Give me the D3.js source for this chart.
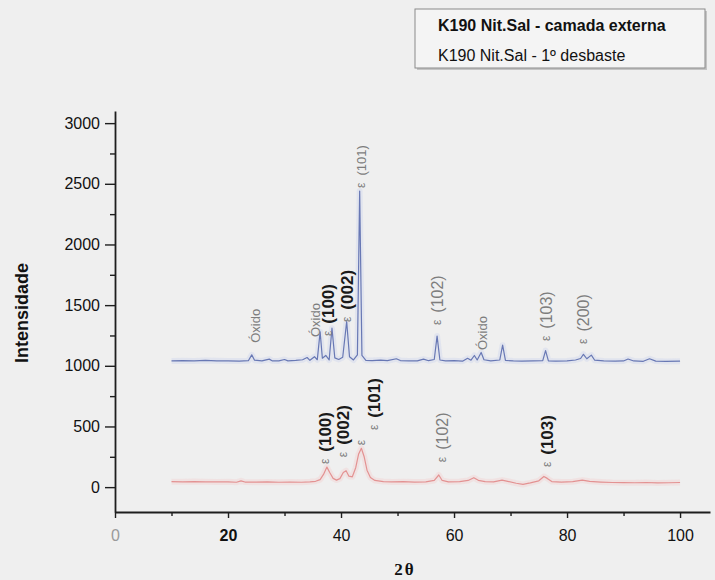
<!DOCTYPE html>
<html>
<head>
<meta charset="utf-8">
<script src="https://cdn.jsdelivr.net/npm/d3@7"></script>
<style>
  html, body { margin: 0; padding: 0; background: #efefef; }
  svg { display: block; font-family: "Liberation Sans", Arial, sans-serif; }
</style>
</head>
<body>
<svg id="chart" width="715" height="580"></svg>
<script>
// Series names shown in the legend box
const legendLabels = ["K190 Nit.Sal - camada externa", "K190 Nit.Sal - 1º desbaste"];

// Axis tick values
const xTickValues = [0, 20, 40, 60, 80, 100];
const xMinorTicks = [10, 30, 50, 70, 90];
const yTickValues = [0, 500, 1000, 1500, 2000, 2500, 3000];
const yMinorTicks = [250, 750, 1250, 1750, 2250, 2750];

// Diffractogram of the outer layer: [2θ, intensity]
const externa = [
  [10, 1040], [12, 1042], [14, 1040], [16, 1044], [18, 1041], [20, 1040], [22, 1039],
  [23.6, 1042], [24.2, 1090], [24.7, 1046], [26, 1040], [27.3, 1055], [27.8, 1041],
  [29, 1040], [30, 1052], [30.6, 1041], [32, 1044], [33.2, 1050], [34, 1068], [34.5, 1045],
  [35.3, 1075], [35.8, 1050], [36.3, 1280], [36.7, 1062], [37.3, 1085], [37.9, 1048],
  [38.4, 1310], [38.9, 1065], [39.6, 1052], [40.3, 1070], [41.0, 1365], [41.5, 1075],
  [42.2, 1048], [42.9, 1090], [43.3, 2440], [43.7, 1085], [44.4, 1045], [45.5, 1043],
  [47, 1047], [48.2, 1042], [49.8, 1058], [50.5, 1043], [52, 1040], [53.5, 1041],
  [54.6, 1055], [55.5, 1042], [56.5, 1052], [57.0, 1245], [57.5, 1048], [58.5, 1040],
  [60, 1042], [61.5, 1038], [62.4, 1062], [63, 1046], [63.6, 1085], [64.1, 1048],
  [64.8, 1110], [65.3, 1050], [66.5, 1040], [68.1, 1048], [68.6, 1170], [69.1, 1044],
  [70.5, 1040], [72, 1038], [74, 1040], [75.7, 1042], [76.2, 1125], [76.7, 1041],
  [78, 1038], [80, 1040], [81.5, 1048], [82.4, 1060], [82.9, 1095], [83.5, 1058],
  [84.3, 1088], [84.9, 1046], [86.5, 1040], [88.5, 1038], [90, 1040], [90.8, 1056],
  [91.8, 1040], [93.5, 1037], [94.6, 1058], [95.7, 1039], [97.5, 1036], [100, 1038]
];

// Diffractogram after the first grinding: [2θ, intensity]
const desbaste = [
  [10, 45], [12, 44], [14, 46], [16, 44], [18, 43], [20, 44], [21.5, 40], [22.3, 52],
  [23, 42], [25, 41], [27, 43], [29, 40], [31, 42], [33, 40], [34.5, 44], [35.5, 48],
  [36.3, 62], [36.9, 105], [37.5, 165], [38.0, 120], [38.6, 72], [39.2, 58], [39.8, 70],
  [40.4, 120], [40.9, 135], [41.4, 90], [42.0, 85], [42.6, 160], [43.1, 270], [43.6, 320],
  [44.1, 250], [44.6, 140], [45.2, 80], [46, 55], [47.5, 46], [49, 43], [51, 45], [53, 42],
  [55, 44], [56.5, 55], [57.3, 100], [57.9, 55], [59, 44], [61, 46], [62.5, 55], [63.5, 78],
  [64.3, 56], [65.5, 45], [67, 44], [68.5, 58], [69.5, 48], [71, 32], [72.2, 22], [73.5, 35],
  [75, 52], [75.9, 88], [76.5, 72], [77.3, 46], [79, 42], [81, 45], [82.7, 58], [84, 48],
  [86, 42], [88, 38], [90, 37], [92, 36], [94, 38], [96, 35], [98, 36], [100, 38]
];

// Peak annotations, anchored at [2θ, intensity] of the label's lower end
const labelsExterna = [
  { hkl: "Óxido", t: 24.8, i: 1190, kind: "oxide" },
  { hkl: "Óxido", t: 35.4, i: 1237, kind: "oxide" },
  { hkl: "(100)", t: 37.7, i: 1245, kind: "bold" },
  { hkl: "(002)", t: 41.1, i: 1361, kind: "bold" },
  { hkl: "(101)", t: 43.5, i: 2466, kind: "graySmall" },
  { hkl: "(102)", t: 57.0, i: 1336, kind: "gray" },
  { hkl: "Óxido", t: 65.0, i: 1130, kind: "oxide" },
  { hkl: "(103)", t: 76.3, i: 1204, kind: "gray" },
  { hkl: "(200)", t: 82.8, i: 1180, kind: "gray" }
];
const labelsDesbaste = [
  { hkl: "(100)", t: 37.2, i: 190, kind: "bold" },
  { hkl: "(002)", t: 40.4, i: 247, kind: "bold" },
  { hkl: "", t: 43.5, i: 345, kind: "eps" },
  { hkl: "(101)", t: 45.8, i: 470, kind: "bold" },
  { hkl: "(102)", t: 57.9, i: 206, kind: "gray" },
  { hkl: "(103)", t: 76.5, i: 165, kind: "bold" }
];

const svg = d3.select("#chart");

const x = d3.scaleLinear().domain([0, 105.3]).range([115, 710]);
const y = d3.scaleLinear().domain([-205, 3100]).range([512, 111]);

// ---- axes ----
const axisColor = "#1e1e1e";

const yAxis = svg.append("g").attr("transform", "translate(115,0)")
  .call(d3.axisLeft(y).tickValues(yTickValues).tickFormat(d3.format("d"))
    .tickSize(10).tickSizeOuter(0).tickPadding(5));
yAxis.select(".domain").attr("stroke", axisColor).attr("stroke-width", 1.8);
yAxis.selectAll(".tick line").attr("stroke", axisColor).attr("stroke-width", 1.4);
yAxis.selectAll(".tick text").attr("fill", "#111").style("font-size", "16px")
  .style("font-family", "'Liberation Sans', Arial, sans-serif");

const yMinor = svg.append("g").attr("transform", "translate(115,0)")
  .call(d3.axisLeft(y).tickValues(yMinorTicks).tickSize(5).tickFormat(""));
yMinor.select(".domain").remove();
yMinor.selectAll(".tick line").attr("stroke", axisColor).attr("stroke-width", 1.4);

const xAxis = svg.append("g").attr("transform", "translate(0,512)")
  .call(d3.axisBottom(x).tickValues(xTickValues).tickFormat(d3.format("d"))
    .tickSize(6).tickSizeOuter(0).tickPadding(12));
xAxis.select(".domain").attr("stroke", axisColor).attr("stroke-width", 1.8);
xAxis.selectAll(".tick line").attr("stroke", axisColor).attr("stroke-width", 1.4);
xAxis.selectAll(".tick text")
  .style("font-size", "16px")
  .style("font-family", "'Liberation Sans', Arial, sans-serif")
  .attr("fill", d => d === 0 ? "#9a9a9a" : "#111")
  .style("font-weight", d => d === 20 ? "bold" : "normal");

const xMinor = svg.append("g").attr("transform", "translate(0,512)")
  .call(d3.axisBottom(x).tickValues(xMinorTicks).tickSize(4).tickFormat(""));
xMinor.select(".domain").remove();
xMinor.selectAll(".tick line").attr("stroke", axisColor).attr("stroke-width", 1.4);

// axis titles
svg.append("text")
  .attr("transform", "translate(28,313) rotate(-90)")
  .attr("text-anchor", "middle")
  .style("font-size", "18px").style("font-weight", "bold")
  .attr("fill", "#111")
  .text("Intensidade");

svg.append("text")
  .attr("x", 405).attr("y", 575)
  .attr("text-anchor", "middle")
  .style("font-family", "'Liberation Serif', 'Times New Roman', serif")
  .style("font-size", "17px").style("font-weight", "bold")
  .style("letter-spacing", "2px")
  .attr("fill", "#111")
  .text("2θ");

// ---- series ----
const line = d3.line().x(d => x(d[0])).y(d => y(d[1]));

function drawSeries(data, color, halo) {
  svg.append("path").datum(data)
    .attr("d", line).attr("fill", "none")
    .attr("stroke", halo).attr("stroke-width", 6).attr("stroke-opacity", 0.35)
    .attr("stroke-linejoin", "round");
  svg.append("path").datum(data)
    .attr("d", line).attr("fill", "none")
    .attr("stroke", color).attr("stroke-width", 1.2)
    .attr("stroke-linejoin", "round");
}
drawSeries(externa, "#6878b4", "#c9d1ee");
drawSeries(desbaste, "#e39292", "#f4caca");

// ---- peak labels ----
function drawLabels(list) {
  list.forEach(lab => {
    const t = svg.append("text")
      .attr("transform", `translate(${x(lab.t)},${y(lab.i)}) rotate(-90)`)
      .attr("dominant-baseline", "central");
    if (lab.kind === "oxide") {
      t.style("font-size", "13px").attr("fill", "#7d7d7d").text(lab.hkl);
      return;
    }
    t.append("tspan").style("font-size", "12px").attr("fill", "#7d7d7d").text("ε");
    if (lab.kind === "eps") return;
    const h = t.append("tspan").attr("dx", 7).text(lab.hkl);
    if (lab.kind === "bold") {
      h.style("font-size", "17px").style("font-weight", "bold").attr("fill", "#1a1a1a");
    } else if (lab.kind === "gray") {
      h.style("font-size", "16px").attr("fill", "#7d7d7d");
    } else {
      h.style("font-size", "13px").attr("fill", "#7d7d7d");
    }
  });
}
drawLabels(labelsExterna);
drawLabels(labelsDesbaste);

// ---- legend ----
const lg = svg.append("g");
lg.append("rect").attr("x", 417).attr("y", 11).attr("width", 290).attr("height", 59)
  .attr("fill", "#c4c4c4");
lg.append("rect").attr("x", 415).attr("y", 9).attr("width", 290).attr("height", 59)
  .attr("fill", "#f4f4f4").attr("stroke", "#8a8a8a").attr("stroke-width", 1);
lg.selectAll("text.entry").data(legendLabels).join("text")
  .attr("class", "entry")
  .attr("x", 438)
  .attr("y", (d, i) => 31 + i * 30)
  .style("font-size", "16px")
  .style("font-weight", (d, i) => i === 0 ? "bold" : "normal")
  .attr("fill", "#111")
  .text(d => d);
</script>
</body>
</html>
